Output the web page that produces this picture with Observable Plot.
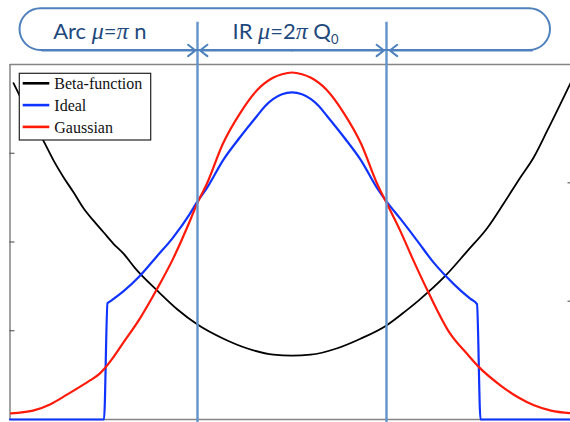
<!DOCTYPE html>
<html><head><meta charset="utf-8">
<script src="https://cdn.jsdelivr.net/npm/d3@7"></script>
<script src="https://cdn.jsdelivr.net/npm/@observablehq/plot@0.6"></script>
<style>
html,body{margin:0;padding:0;background:#fff;}
#wrap{position:relative;width:570px;height:422px;overflow:hidden;}
</style></head><body><div id="wrap"></div>
<script>
// ---- data (s = position along the lattice, arbitrary units; values on left-axis units 0..4) ----
const betaS  = [-278.5,-271.5,-248.5,-238.5,-228.5,-218.5,-208.5,-198.5,-188.5,-178.5,-168.5,-156.5,-134.5,-114.5,-94.5,-68.5,-44.5,-18.5,0,18.5,44.5,68.5,94.5,114.5,126.5,153.5,175.5,195.5,211.5,228.5,241.5,255.5,278.5];
const betaV  = [3.79,3.63,3.14,2.92,2.73,2.56,2.38,2.24,2.11,1.98,1.87,1.70,1.45,1.24,1.07,0.91,0.80,0.73,0.72,0.73,0.80,0.91,1.06,1.23,1.34,1.62,1.90,2.16,2.43,2.73,2.95,3.26,3.79];
const idealS = [-282,-188,-184.5,-182,-169,-152,-135,-119,-102,-95,-85,-69,-52,-35,-27,-19,-10,0,10,19,27,35,52,69,85,95,108.5,125.5,141.5,153.5,169,178.5,185,188.5,282];
const idealV = [0,0,1.31,1.33,1.44,1.62,1.84,2.05,2.32,2.45,2.61,2.92,3.18,3.42,3.53,3.61,3.665,3.685,3.665,3.61,3.53,3.42,3.18,2.92,2.61,2.45,2.26,2.01,1.77,1.62,1.45,1.36,1.30,0,0];
const gaussS = [-281,-259,-242,-225,-209,-202,-192,-187,-180,-169,-152,-135,-119,-102,-95,-85,-69,-52,-35,-19,-10,0,10,19,35,52,69,85,95,108.5,121.5,136.5,158,175,187,209,226,242,259,279];
const gaussV = [0.07,0.10,0.17,0.28,0.39,0.44,0.52,0.58,0.68,0.86,1.14,1.47,1.81,2.24,2.43,2.66,3.11,3.45,3.71,3.85,3.89,3.91,3.89,3.85,3.71,3.45,3.11,2.66,2.43,2.12,1.79,1.43,0.97,0.74,0.59,0.38,0.25,0.16,0.10,0.07];
const leftTicks  = [1, 2, 3];          // left axis 0..4
const rightTicks = [1, 2];             // right axis 0..3
const rightMax = 3, leftMax = 4;
const boundaries = [-94.5, 94.5];      // Arc / IR boundaries
const seriesNames  = ["Beta-function", "Ideal", "Gaussian"];
const seriesColors = ["#000000", "#1034ff", "#ff1a0a"];
const bannerParts = [
  [["Arc ", ""], ["\u03bc", "i"], ["=", ""], ["\u03c0", "i"], [" n", ""]],
  [["IR ", ""], ["\u03bc", "i"], ["=2", ""], ["\u03c0", "i"], [" Q", ""], ["0", "sub"]]
];
const bannerX = [-238.8, -59.5];

// ---- build ----
const toRows = (S, V) => S.map((s, i) => ({s, v: V[i]}));
const beta = toRows(betaS, betaV), ideal = toRows(idealS, idealV), gauss = toRows(gaussS, gaussV);
const bandBottom = 4.158, bandTop = 4.628, lineTop = 4.477;
const banner = [{x1: -272, x2: 258.5, y1: bandBottom, y2: bandTop}];
const arrows = [
  {x1: -250, x2: -96.5}, {x1: 0, x2: -92},
  {x1: 0, x2: 92}, {x1: 240, x2: 97.8}
];
const accent = "#4F81BD";
const joined = bannerParts.map(p => p.map(q => q[0]).join(""));

const plot = Plot.plot({
  width: 570, height: 422,
  marginLeft: 9.5, marginRight: -3.5, marginTop: 64, marginBottom: 3,
  x: {domain: [-282, 282], axis: null},
  y: {domain: [0, leftMax], axis: null},
  marks: [
    Plot.ruleY([0, leftMax], {stroke: "#858585", strokeWidth: 1.5}),
    Plot.ruleX([-282], {y1: 0, y2: leftMax, stroke: "#858585", strokeWidth: 1.5}),
    Plot.axisY(leftTicks, {anchor: "left", tickSize: -5, tickFormat: () => "", label: null, stroke: "#444"}),
    Plot.axisY(rightTicks.map(d => d * leftMax / rightMax), {anchor: "right", tickSize: -7, tickFormat: () => "", label: null, stroke: "#444"}),
    Plot.line(beta,  {x: "s", y: "v", stroke: seriesColors[0], strokeWidth: 1.8, curve: "monotone-x"}),
    Plot.line(ideal, {x: "s", y: "v", stroke: seriesColors[1], strokeWidth: 2.2, curve: "monotone-x"}),
    Plot.line(gauss, {x: "s", y: "v", stroke: seriesColors[2], strokeWidth: 2.2, curve: "monotone-x"}),
    Plot.ruleX(boundaries, {y1: -0.1, y2: lineTop, stroke: "#6393cb", strokeWidth: 2.4}),
    Plot.rect(banner, {x1: "x1", x2: "x2", y1: "y1", y2: "y2", rx: 21, fill: "none", stroke: accent, strokeWidth: 2}),
    Plot.arrow(arrows, {x1: "x1", x2: "x2", y1: bandBottom, y2: bandBottom, stroke: accent, strokeWidth: 2, headLength: 7, headAngle: 75}),
    Plot.text(joined, {x: (d, i) => bannerX[i], y: 4.29, text: d => d, textAnchor: "start", lineAnchor: "bottom", fontSize: 22, fontFamily: "Lato, 'Open Sans', sans-serif", fill: "#1F497D"})
  ]
});

// rich text for the banner labels (italic Greek, subscript)
plot.querySelectorAll("text").forEach(el => {
  const i = joined.indexOf(el.textContent);
  if (i < 0) return;
  const t = d3.select(el);
  t.text(null).style("white-space", "pre");
  for (const [str, kind] of bannerParts[i]) {
    const sp = t.append("tspan").text(str);
    if (kind === "i") sp.attr("font-family", "'Liberation Serif', serif").attr("font-style", "italic").attr("font-size", 24);
    if (kind === "sub") sp.attr("font-size", 13).attr("dy", 5);
  }
});

const wrap = document.getElementById("wrap");
wrap.appendChild(plot);

// legend box overlay
const leg = d3.create("svg").attr("width", 134).attr("height", 70)
  .style("position", "absolute").style("left", "18px").style("top", "72px");
leg.append("rect").attr("x", 1.3).attr("y", 1.3).attr("width", 131.4).attr("height", 66.7)
  .attr("fill", "white").attr("stroke", "#222").attr("stroke-width", 1.2);
seriesNames.forEach((n, i) => {
  const ly = 11.3 + i * 21.8;
  leg.append("line").attr("x1", 4.7).attr("x2", 31.3).attr("y1", ly).attr("y2", ly)
    .attr("stroke", seriesColors[i]).attr("stroke-width", 2.6);
  leg.append("text").attr("x", 36.3).attr("y", ly + 6).text(n)
    .attr("font-family", "'Liberation Serif', 'Times New Roman', serif").attr("font-size", 16).attr("fill", "#111");
});
wrap.appendChild(leg.node());
</script></body></html>
